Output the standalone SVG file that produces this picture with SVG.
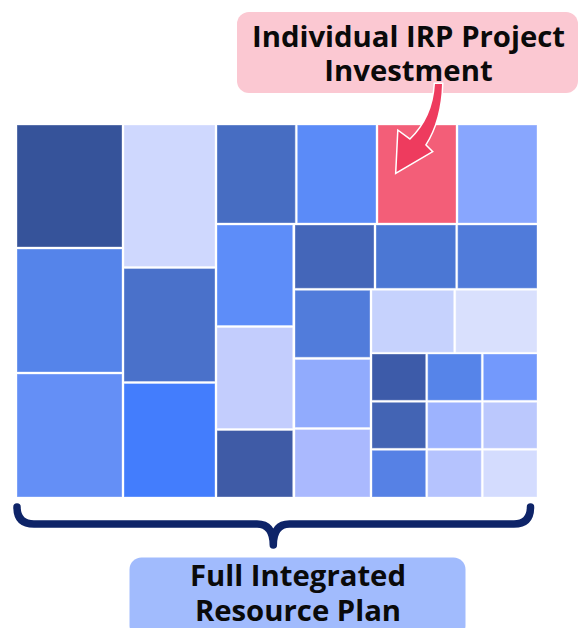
<svg xmlns="http://www.w3.org/2000/svg" width="579" height="628" viewBox="0 0 579 628">
  <style>
    .cell { stroke: #ffffff; stroke-opacity: 0.35; stroke-width: 1; }
    .label { font-family: "Open Sans", "Noto Sans", "Liberation Sans", sans-serif; font-weight: 700; font-size: 29.3px; fill: #0a0a0a; text-anchor: middle; }
  </style>
  <rect width="579" height="628" fill="#ffffff"/>

  <!-- treemap of resource plan investments -->
  <g id="treemap">
    <rect class="cell" x="17" y="125" width="105" height="122" fill="#36539a"/>
    <rect class="cell" x="17" y="249" width="105" height="123" fill="#5584ea"/>
    <rect class="cell" x="17" y="374" width="105" height="123" fill="#648ff6"/>

    <rect class="cell" x="124" y="125" width="91" height="141.5" fill="#cfd8fe"/>
    <rect class="cell" x="124" y="268.5" width="91" height="113" fill="#4a71ca"/>
    <rect class="cell" x="124" y="383.5" width="91" height="113.5" fill="#437dfd"/>

    <rect class="cell" x="217" y="125" width="78.3" height="98" fill="#476dc2"/>
    <rect class="cell" x="217" y="225" width="75.7" height="100.5" fill="#5d8df9"/>
    <rect class="cell" x="217" y="327.5" width="75.7" height="101" fill="#c3cdfd"/>
    <rect class="cell" x="217" y="430.5" width="75.7" height="66.5" fill="#3f5ba6"/>

    <rect class="cell" x="297.3" y="125" width="78.7" height="98" fill="#5b8bf8"/>
    <rect class="cell" x="458" y="125" width="79" height="98" fill="#88a6fe"/>

    <rect class="cell" x="295" y="225" width="79" height="63.3" fill="#4466b9"/>
    <rect class="cell" x="376" y="225" width="79.7" height="63.3" fill="#4b77d4"/>
    <rect class="cell" x="457.7" y="225" width="79.3" height="63.3" fill="#507bda"/>

    <rect class="cell" x="295" y="290.3" width="75" height="67" fill="#517cdb"/>
    <rect class="cell" x="295" y="359.5" width="75" height="68" fill="#91abfd"/>
    <rect class="cell" x="295" y="429.5" width="75" height="67.5" fill="#aab9fe"/>

    <rect class="cell" x="372" y="290.3" width="81.7" height="62" fill="#c6d2fd"/>
    <rect class="cell" x="455.7" y="290.3" width="81.3" height="62" fill="#d9e0fd"/>

    <rect class="cell" x="372" y="354" width="53.7" height="46.3" fill="#3d5ba9"/>
    <rect class="cell" x="427.7" y="354" width="53.6" height="46.3" fill="#5684e9"/>
    <rect class="cell" x="483.3" y="354" width="53.7" height="46.3" fill="#7399fc"/>
    <rect class="cell" x="372" y="402.3" width="53.7" height="46" fill="#4364b4"/>
    <rect class="cell" x="427.7" y="402.3" width="53.6" height="46" fill="#9db3fe"/>
    <rect class="cell" x="483.3" y="402.3" width="53.7" height="46" fill="#bbc8fd"/>
    <rect class="cell" x="372" y="450.3" width="53.7" height="46.7" fill="#5681e5"/>
    <rect class="cell" x="427.7" y="450.3" width="53.6" height="46.7" fill="#b5c3fe"/>
    <rect class="cell" x="483.3" y="450.3" width="53.7" height="46.7" fill="#d4dcfe"/>
  </g>

  <!-- the highlighted project -->
  <g id="project-cell">
    <rect class="cell" x="378" y="125" width="78" height="98" fill="#f35e78"/>
  </g>

  <!-- callout label -->
  <g id="project-label">
    <rect x="237" y="12" width="341" height="81" rx="12" fill="#fbc8d2"/>
    <text class="label" x="408.5" y="46.5">Individual IRP Project</text>
    <text class="label" x="408.5" y="81">Investment</text>
  </g>

  <!-- plan label -->
  <g id="plan-label">
    <rect x="129.5" y="557.5" width="336" height="80" rx="12" fill="#a1bbfd"/>
    <text class="label" x="298" y="585.5">Full Integrated</text>
    <text class="label" x="298" y="621">Resource Plan</text>
  </g>

  <!-- connectors -->
  <g id="connectors">
    <path d="M435 84 Q433 118 410 140 L398.5 131.5 L396.5 172 L431.5 151.5 L425 145 Q441 120 442 84 Z" fill="#ee3b5e" stroke="#ffffff" stroke-width="3" stroke-linejoin="miter" paint-order="stroke"/>
    <path d="M17 507 Q17 524 34 524 L257 524 Q273.3 524 273.3 545 Q273.3 524 289.5 524 L514 524 Q530.5 524 530.5 507" fill="none" stroke="#0e2468" stroke-width="7.5" stroke-linecap="round" stroke-linejoin="round"/>
  </g>
</svg>
